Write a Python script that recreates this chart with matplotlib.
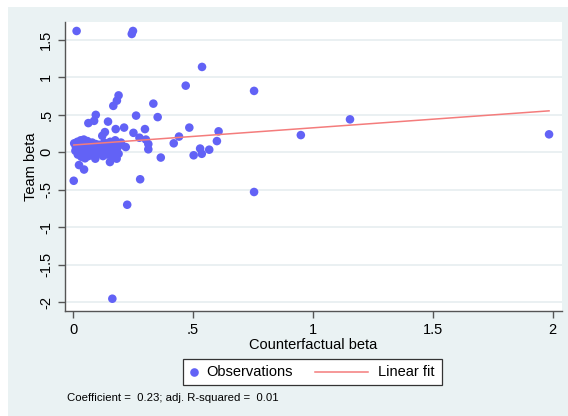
import numpy as np
import matplotlib.pyplot as plt
from matplotlib.patches import Rectangle
from matplotlib.lines import Line2D

plt.rcParams['font.family'] = ['Liberation Sans', 'DejaVu Sans']

# observations (counterfactual beta, team beta)
cf_beta = [0.015, 0.25, 0.245, 0.538, 0.755, 0.95, 1.155, 1.985, 0.755,
           0.47, 0.335, 0.263, 0.353, 0.485, 0.252, 0.30, 0.277, 0.304, 0.314,
           0.314, 0.366, 0.42, 0.442, 0.503, 0.53, 0.537, 0.568, 0.60, 0.607,
           0.28, 0.226, 0.003, 0.19, 0.183, 0.168, 0.146, 0.095, 0.088, 0.064,
           0.213, 0.178, 0.133, 0.122, 0.22, 0.182, 0.154, 0.046, 0.025, 0.093,
           0.176, 0.164,
           0.005, 0.01, 0.012, 0.018, 0.02, 0.025, 0.03, 0.032, 0.035, 0.04,
           0.042, 0.045, 0.05, 0.052, 0.058, 0.06, 0.065, 0.07, 0.075, 0.08,
           0.085, 0.09, 0.095, 0.10, 0.105, 0.11, 0.115, 0.12, 0.125, 0.13,
           0.135, 0.14, 0.145, 0.15, 0.155, 0.16, 0.165, 0.17, 0.175, 0.18,
           0.185, 0.19, 0.195, 0.2]
team_beta = [1.62, 1.62, 1.58, 1.14, 0.82, 0.23, 0.44, 0.24, -0.53,
             0.89, 0.65, 0.49, 0.47, 0.33, 0.26, 0.31, 0.195, 0.17, 0.11,
             0.04, -0.07, 0.12, 0.21, -0.04, 0.05, -0.02, 0.035, 0.15, 0.28,
             -0.36, -0.70, -0.38, 0.76, 0.69, 0.62, 0.41, 0.50, 0.42, 0.39,
             0.33, 0.31, 0.27, 0.22, 0.07, -0.085, -0.13, -0.23, -0.17, -0.085,
             0.16, -1.955,
             0.12, 0.02, 0.07, 0.14, -0.03, 0.10, 0.04, 0.16, -0.06, 0.08,
             0.01, 0.17, -0.08, 0.12, 0.03, 0.15, -0.05, 0.09, 0.0, 0.13,
             -0.04, 0.06, 0.11, -0.02, 0.04, 0.1, 0.0, 0.07, -0.05, 0.13,
             0.02, 0.09, -0.03, 0.05, 0.14, 0.0, 0.08, -0.06, 0.11, 0.03,
             0.06, -0.02, 0.1, 0.13]

fit_intercept = 0.097
fit_slope = 0.23

xticks = [0, 0.5, 1, 1.5, 2]
xticklabels = ['0', '.5', '1', '1.5', '2']
yticks = [-2, -1.5, -1, -0.5, 0, 0.5, 1, 1.5]
yticklabels = ['-2', '-1.5', '-1', '-.5', '0', '.5', '1', '1.5']

dot_color = '#6262f6'
fit_color = '#f47c7c'
bg = '#eaf2f3'

W, H = 568, 416
def fx(p):
    return p / W
def fy(p):
    return 1 - p / H

fig = plt.figure(figsize=(5.68, 4.16), dpi=100, facecolor='white')
fig.patches.append(Rectangle((fx(8), 0), 1, fy(7), transform=fig.transFigure,
                             facecolor=bg, edgecolor='none', zorder=-10))

ax = fig.add_axes([fx(65), fy(311), fx(562 - 65), (311 - 22) / H])
ax.set_facecolor('white')

ax.scatter(cf_beta, team_beta, s=38, color=dot_color, edgecolors='none', zorder=3)
xs = np.array([min(cf_beta), max(cf_beta)])
ax.plot(xs, fit_intercept + fit_slope * xs, color=fit_color, lw=1.1, zorder=4)

ax.set_xlim(-0.0334, 2.039)
ax.set_ylim(-2.119, 1.74)
ax.set_xticks(xticks)
ax.set_xticklabels(xticklabels)
ax.set_yticks(yticks)
ax.set_yticklabels(yticklabels, rotation=90, va='center')
ax.grid(axis='y', color='#e6eef0', lw=1.2, zorder=0)
ax.set_axisbelow(True)

for s in ['top', 'right']:
    ax.spines[s].set_visible(False)
for s in ['left', 'bottom']:
    ax.spines[s].set_color('#555555')
    ax.spines[s].set_linewidth(1.0)
ax.tick_params(colors='#555555', labelcolor='black', labelsize=10.5, length=5, width=1)

ax.set_xlabel('Counterfactual beta', fontsize=10.5, labelpad=1)
ax.set_ylabel('Team beta', fontsize=10.5, labelpad=1)

# legend box, Stata style
fig.patches.append(Rectangle((fx(183), fy(385)), fx(442 - 183), (385 - 359) / H,
                             transform=fig.transFigure, facecolor='white',
                             edgecolor='#333333', lw=0.9, zorder=5))
fig.add_artist(Line2D([fx(194)], [fy(372)], marker='o', ms=6.2, color=dot_color,
                      mec='none', transform=fig.transFigure, zorder=6))
fig.text(fx(206), fy(372), 'Observations', fontsize=10.5, va='center', ha='left', zorder=6)
fig.add_artist(Line2D([fx(315), fx(368)], [fy(372), fy(372)], color=fit_color, lw=1.1,
                      transform=fig.transFigure, zorder=6))
fig.text(fx(378), fy(372), 'Linear fit', fontsize=10.5, va='center', ha='left', zorder=6)

fig.text(fx(67), fy(398), 'Coefficient =  0.23; adj. R-squared =  0.01',
         fontsize=8.2, va='center', ha='left')

fig.savefig('out.png', dpi=100, facecolor=fig.get_facecolor())
